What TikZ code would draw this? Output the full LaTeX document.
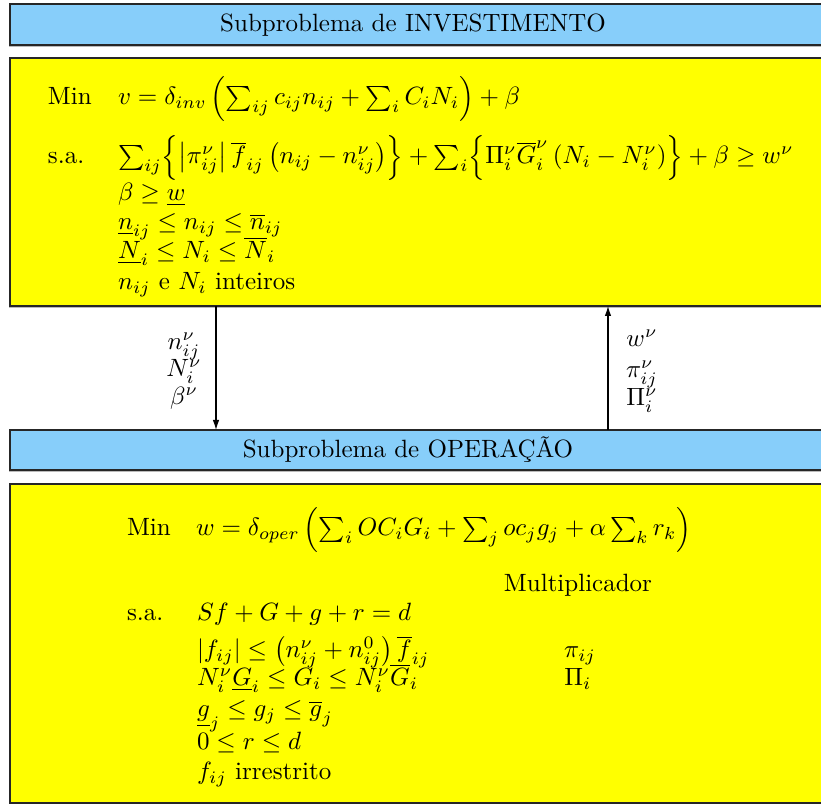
\documentclass[tikz,border=0pt]{standalone}
\usepackage{amsmath,amssymb}
\usetikzlibrary{arrows.meta,shadows}
\definecolor{boxblue}{RGB}{135,206,250}
\definecolor{boxyellow}{RGB}{255,255,0}
\tikzset{
  panel/.style={draw=black!85, line width=0.5pt, inner sep=0pt, outer sep=0pt,
    drop shadow={shadow xshift=-0.4pt, shadow yshift=-0.8pt, opacity=0.45, fill=black!60}},
  titlebox/.style={panel, fill=boxblue},
  mathbox/.style={panel, fill=boxyellow},
  txt/.style={anchor=base west, inner sep=0pt, outer sep=0pt},
  ctxt/.style={anchor=base, inner sep=0pt, outer sep=0pt},
  flow/.style={draw=black, line width=0.45pt, -{Latex[length=4pt,width=2.6pt]}}
}
\begin{document}
\begin{tikzpicture}[x=0.4pt,y=-0.4pt]
\useasboundingbox (0,0) rectangle (821,804);
% boxes
\node[titlebox, minimum width=328pt, minimum height=16.4pt] (t1) at (420,24.5) {};
\node[ctxt] (t1txt) at (413,32) {Subproblema de INVESTIMENTO};
\node[mathbox, minimum width=328pt, minimum height=99.2pt] (y1) at (420,182) {};
\node[titlebox, minimum width=328pt, minimum height=16pt] (t2) at (420,450) {};
\node[ctxt] (t2txt) at (408,458) {Subproblema de OPERAÇÃO};
\node[mathbox, minimum width=328pt, minimum height=127.6pt] (y2) at (420,643.5) {};
% investment problem
\node[txt] (min1) at (48,105) {Min};
\node[txt] (obj1) at (118,105) {$v=\delta_{inv}\left(\sum_{ij}c_{ij}n_{ij}+\sum_{i}C_iN_i\right)+\beta$};
\node[txt] (sa1) at (48,164) {s.a.};
\node[txt] (c11) at (118,164) {$\sum_{ij}\Bigl\{\left|\pi^{\nu}_{ij}\right|\overline{f}_{ij}\left(n_{ij}-n^{\nu}_{ij}\right)\Bigr\}+\sum_{i}\Bigl\{\Pi^{\nu}_{i}\overline{G}^{\nu}_{i}\left(N_i-N^{\nu}_{i}\right)\Bigr\}+\beta\geq w^{\nu}$};
\node[txt] (c12) at (118,201) {$\beta\geq\underline{w}$};
\node[txt] (c13) at (118,230) {$\underline{n}_{ij}\leq n_{ij}\leq\overline{n}_{ij}$};
\node[txt] (c14) at (118,259) {$\underline{N}_{i}\leq N_{i}\leq\overline{N}_{i}$};
\node[txt] (c15) at (118,290) {$n_{ij}$ e $N_i$ inteiros};
% connectors
\coordinate (xd) at (216,0);
\coordinate (xu) at (608,0);
\draw[flow] (y1.south -| xd) -- (t2.north -| xd);
\draw[flow] (t2.north -| xu) -- (y1.south -| xu);
\node[ctxt] (l1) at (184,350) {$n^{\nu}_{ij}$};
\node[ctxt] (l2) at (184,377) {$N^{\nu}_{i}$};
\node[ctxt] (l3) at (184,405) {$\beta^{\nu}$};
\node[ctxt] (r1) at (642,347) {$w^{\nu}$};
\node[ctxt] (r2) at (642,378) {$\pi^{\nu}_{ij}$};
\node[ctxt] (r3) at (642,406) {$\Pi^{\nu}_{i}$};
% operation problem
\node[txt] (min2) at (127,536) {Min};
\node[txt] (obj2) at (196,536) {$w=\delta_{oper}\left(\sum_{i}OC_iG_i+\sum_{j}oc_jg_j+\alpha\sum_{k}r_k\right)$};
\node[ctxt] (mult) at (578,592) {Multiplicador};
\node[txt] (sa2) at (127,621) {s.a.};
\node[txt] (c21) at (197,621) {$Sf+G+g+r=d$};
\node[txt] (c22) at (197,658) {$|f_{ij}|\leq\left(n^{\nu}_{ij}+n^{0}_{ij}\right)\overline{f}_{ij}$};
\node[ctxt] (m1) at (580,658) {$\pi_{ij}$};
\node[txt] (c23) at (197,686) {$N^{\nu}_{i}\underline{G}_{i}\leq G_i\leq N^{\nu}_{i}\overline{G}_{i}$};
\node[ctxt] (m2) at (578,686) {$\Pi_{i}$};
\node[txt] (c24) at (197,717) {$\underline{g}_{j}\leq g_j\leq\overline{g}_{j}$};
\node[txt] (c25) at (197,750) {$0\leq r\leq d$};
\node[txt] (c26) at (197,780) {$f_{ij}$ irrestrito};
\end{tikzpicture}
\end{document}
